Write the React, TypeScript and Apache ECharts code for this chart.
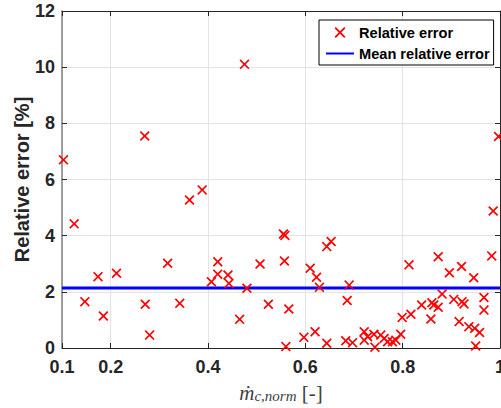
import React, { useEffect, useRef } from "react";
import * as echarts from "echarts";

const X_TICKS = [0.1, 0.2, 0.4, 0.6, 0.8, 1];
const Y_TICKS = [0, 2, 4, 6, 8, 10, 12];

const relX = [
  0.103, 0.125, 0.147, 0.174, 0.185, 0.212, 0.27, 0.271, 0.28, 0.317, 0.342, 0.362,
  0.388, 0.407, 0.42, 0.42, 0.441, 0.443, 0.465, 0.475, 0.48, 0.507, 0.524, 0.555,
  0.558, 0.557, 0.56, 0.566, 0.597, 0.61, 0.62, 0.623, 0.629, 0.644, 0.644, 0.653,
  0.683, 0.686, 0.69, 0.697, 0.721, 0.721, 0.728, 0.741, 0.743, 0.755, 0.762, 0.769,
  0.779, 0.786, 0.796, 0.799, 0.813, 0.817, 0.839, 0.858, 0.86, 0.864, 0.873, 0.873,
  0.881, 0.896, 0.905, 0.916, 0.921, 0.922, 0.926, 0.936, 0.946, 0.948, 0.95, 0.958,
  0.967, 0.967, 0.983, 0.986, 0.997,
];
const relErr = [
  6.7, 4.42, 1.65, 2.54, 1.14, 2.66, 7.55, 1.56, 0.46, 3.02, 1.59, 5.27,
  5.63, 2.36, 3.07, 2.63, 2.6, 2.3, 1.02, 10.1, 2.13, 2.99, 1.56, 4.06,
  4.01, 3.1, 0.05, 1.39, 0.38, 2.84, 0.58, 2.52, 2.16, 3.61, 0.17, 3.79,
  0.26, 1.69, 2.24, 0.19, 0.58, 0.28, 0.4, 0.49, 0.03, 0.46, 0.34, 0.22,
  0.22, 0.28, 0.49, 1.09, 2.96, 1.2, 1.53, 1.03, 1.61, 1.53, 3.25, 1.45,
  1.92, 2.68, 1.73, 0.94, 2.9, 1.65, 1.57, 0.76, 2.5, 0.7, 0.07, 0.55,
  1.8, 1.35, 3.28, 4.88, 7.53,
];
const MEAN_ERR = 2.14;
const MEAN_X = [0.1, 1];

const CROSS =
  "path://M0,1.2L1.2,0L5,3.8L8.8,0L10,1.2L6.2,5L10,8.8L8.8,10L5,6.2L1.2,10L0,8.8L3.8,5Z";

const SANS = "'Liberation Sans', Arial, Helvetica, sans-serif";
const SERIF = "'Liberation Serif', 'DejaVu Serif', serif";

export default function App() {
  const ref = useRef<HTMLDivElement>(null);
  useEffect(() => {
    if (!ref.current) return;
    const chart = echarts.init(ref.current, undefined, { renderer: "svg" });
    const tickLabel = {
      fontSize: 18,
      fontWeight: "bold" as const,
      color: "#262626",
      fontFamily: SANS,
    };
    chart.setOption({
      animation: false,
      backgroundColor: "#ffffff",
      grid: {
        left: 62,
        right: 1,
        top: 11,
        bottom: 60,
        containLabel: false,
        outerBoundsMode: "none",
      },
      legend: {
        orient: "vertical",
        left: 319,
        top: 20,
        padding: [5, 4, 4, 6],
        itemGap: 6,
        itemWidth: 28,
        itemHeight: 11,
        backgroundColor: "#ffffff",
        borderColor: "#000000",
        borderWidth: 1,
        borderRadius: 0,
        textStyle: {
          fontSize: 14.6,
          fontWeight: "bold",
          color: "#000000",
          fontFamily: SANS,
        },
        data: [
          { name: "Relative error" },
          { name: "Mean relative error", itemStyle: { opacity: 0 } },
        ],
      },
      xAxis: [
        {
          type: "value",
          position: "bottom",
          min: 0.1,
          max: 1,
          axisLine: { show: true, onZero: false, lineStyle: { color: "#262626", width: 1 } },
          axisTick: {
            show: true,
            inside: true,
            length: 5,
            customValues: X_TICKS,
            lineStyle: { color: "#262626" },
          },
          axisLabel: {
            ...tickLabel,
            customValues: X_TICKS,
            margin: 10,
            formatter: (v: number) => String(parseFloat(v.toFixed(1))),
          },
          splitLine: { show: true, lineStyle: { color: "#e3e3e3", width: 1 } },
          name: "{m|ṁ}{s|c,norm}{b| [-]}",
          nameLocation: "middle",
          nameGap: 23,
          nameTextStyle: {
            color: "#404040",
            rich: {
              m: { fontSize: 21, fontFamily: SERIF, fontStyle: "italic", color: "#404040", lineHeight: 20, verticalAlign: "bottom" },
              s: { fontSize: 15, fontFamily: SERIF, fontStyle: "italic", color: "#404040", lineHeight: 32, verticalAlign: "bottom" },
              b: { fontSize: 21, fontFamily: SERIF, color: "#404040", lineHeight: 20, verticalAlign: "bottom" },
            },
          },
        },
        {
          type: "value",
          position: "top",
          min: 0.1,
          max: 1,
          axisLine: { show: true, onZero: false, lineStyle: { color: "#262626", width: 1 } },
          axisTick: {
            show: true,
            inside: true,
            length: 5,
            customValues: X_TICKS,
            lineStyle: { color: "#262626" },
          },
          axisLabel: { show: false },
          splitLine: { show: false },
        },
      ],
      yAxis: [
        {
          type: "value",
          position: "left",
          min: 0,
          max: 12,
          interval: 2,
          axisLine: { show: true, onZero: false, lineStyle: { color: "#808080", width: 1.5 } },
          axisTick: { show: true, inside: true, length: 5, lineStyle: { color: "#262626" } },
          axisLabel: { ...tickLabel, margin: 7, customValues: Y_TICKS },
          splitLine: { show: true, lineStyle: { color: "#e3e3e3", width: 1 } },
          name: "Relative error [%]",
          nameLocation: "middle",
          nameGap: 30,
          nameMoveOverlap: false,
          nameTextStyle: {
            fontSize: 20,
            fontWeight: "bold",
            color: "#262626",
            fontFamily: SANS,
          },
        },
        {
          type: "value",
          position: "right",
          min: 0,
          max: 12,
          interval: 2,
          axisLine: { show: true, onZero: false, lineStyle: { color: "#262626", width: 1 } },
          axisTick: { show: true, inside: true, length: 5, lineStyle: { color: "#262626" } },
          axisLabel: { show: false },
          splitLine: { show: false },
        },
      ],
      series: [
        {
          name: "Mean relative error",
          type: "line",
          xAxisIndex: 0,
          yAxisIndex: 0,
          data: MEAN_X.map((x) => [x, MEAN_ERR]),
          symbol: "none",
          lineStyle: { color: "#0000ff", width: 3 },
          itemStyle: { color: "rgba(0,0,255,0)", borderWidth: 0 },
          z: 2,
        },
        {
          name: "Relative error",
          type: "scatter",
          xAxisIndex: 0,
          yAxisIndex: 0,
          data: relX.map((x, i) => [x, relErr[i]]),
          symbol: CROSS,
          symbolSize: 10,
          symbolKeepAspect: true,
          itemStyle: { color: "#ff0000", opacity: 1 },
          z: 3,
        },
      ],
    });
    return () => chart.dispose();
  }, []);
  return (
    <div
      ref={ref}
      style={{ position: "fixed", left: 0, top: 0, width: 501, height: 408, background: "#fff" }}
    />
  );
}
